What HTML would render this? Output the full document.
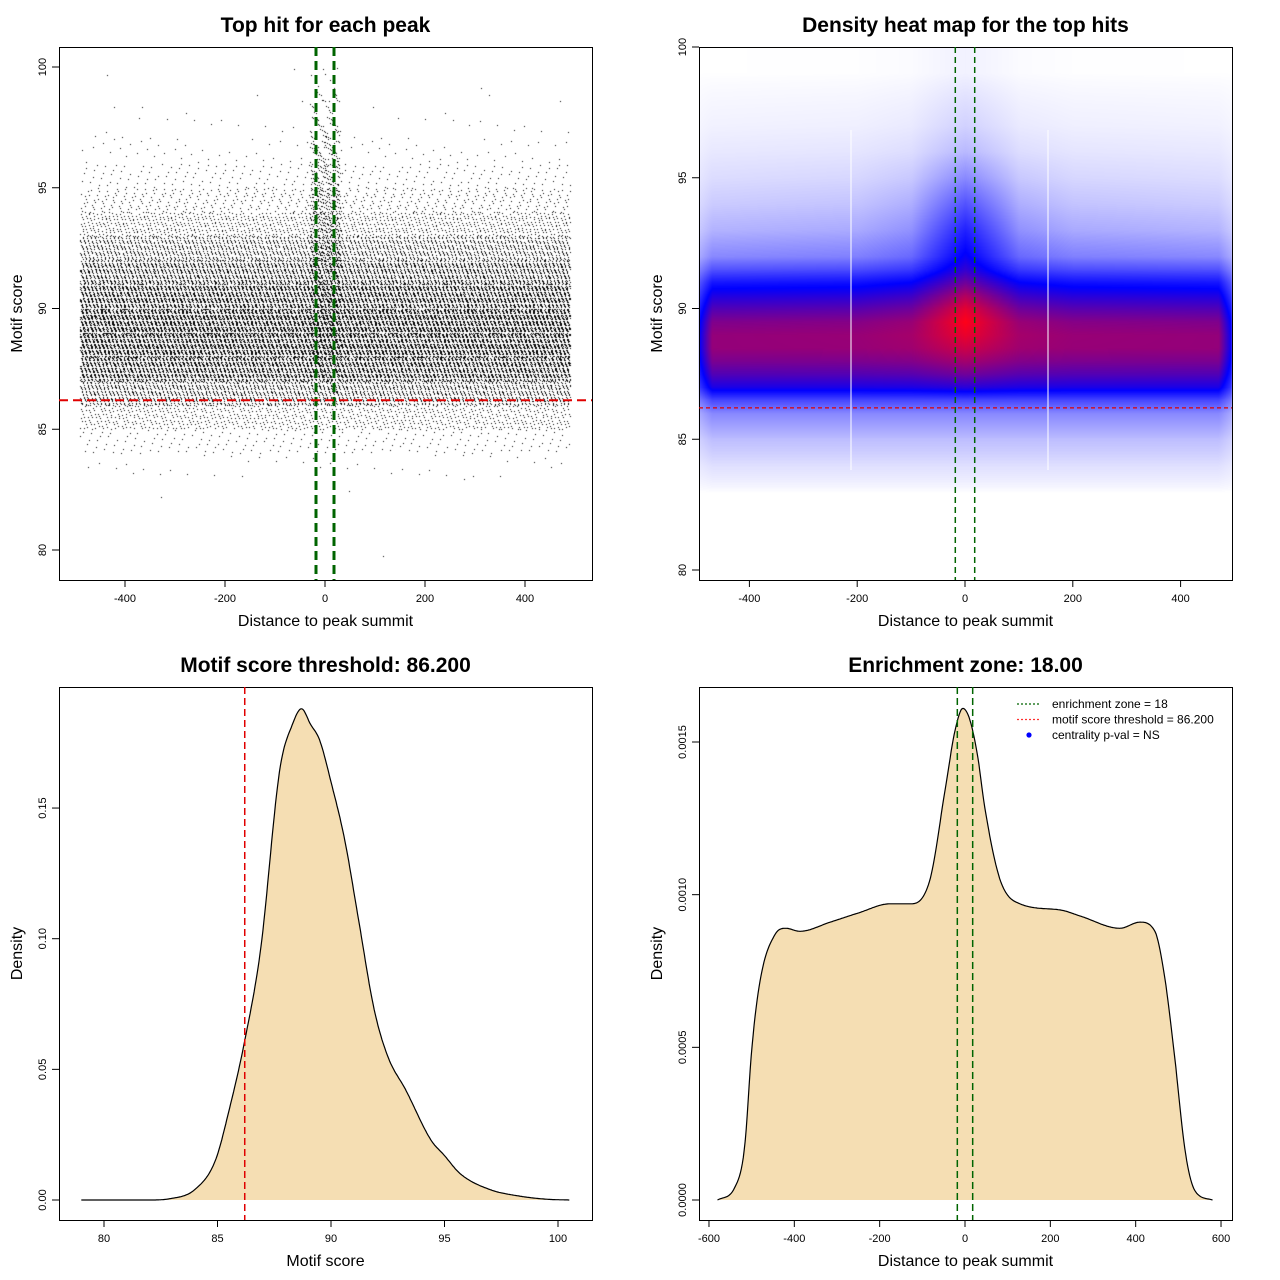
<!DOCTYPE html>
<html><head><meta charset="utf-8">
<style>
html,body{margin:0;padding:0;background:#fff;}
#wrap{position:relative;width:1280px;height:1280px;overflow:hidden;}
canvas,svg{position:absolute;left:0;top:0;}
text{font-family:"Liberation Sans",sans-serif;}
</style></head>
<body>
<div id="wrap">
<canvas id="cv" width="1280" height="1280"></canvas>
<svg id="sv" width="1280" height="1280" xmlns="http://www.w3.org/2000/svg"></svg>
</div>
<script>
// ---------- DATA ----------
const scatterScoreBands = [79,80,81,82,83,84,85,86,87,88,89,90,91,92,93,94,95,96,97,98,99];
const scatterCountsAll  = [1,0,0,3,40,220,900,2400,4800,5600,5600,4800,3500,2100,1100,520,220,80,30,10,3];
const scatterCountsCenter = [0,0,0,0,0,0,0,15,40,60,60,80,90,110,110,100,80,60,40,22,8];

const heatScores = [83,84,85,86,86.5,87,87.5,88,88.5,89,89.5,90,90.5,91,91.5,92,93,94,95,96,97,98,99];
const heatSide   = [0,0.03,0.08,0.18,0.32,0.55,0.66,0.74,0.79,0.79,0.75,0.66,0.56,0.45,0.3,0.18,0.1,0.06,0.035,0.02,0.01,0.005,0];
const heatCenter = [0,0.03,0.08,0.18,0.32,0.58,0.72,0.82,0.9,0.96,1.0,0.95,0.85,0.72,0.6,0.52,0.42,0.3,0.18,0.09,0.05,0.03,0.01];
const heatDist   = [-540,-500,-470,-200,-100,-50,0,50,100,200,470,500,540];
const heatCenterWeight = [0,0,0,0.05,0.2,0.6,1,0.6,0.2,0.05,0,0,0];
const heatEdgeWeight   = [0,0.55,1,1,1,1,1,1,1,1,1,0.55,0];

const scoreX = [79,82,82.9,84,84.9,85.5,86.2,86.9,87.75,88.3,88.7,89.1,89.5,90,90.6,91.2,91.9,92.5,93.3,94.4,95,95.7,97,98.3,99.5,100.5];
const scoreY = [0,0,0.0005,0.004,0.015,0.034,0.061,0.096,0.165,0.182,0.188,0.182,0.176,0.16,0.138,0.108,0.073,0.055,0.042,0.023,0.017,0.01,0.004,0.0015,0.0003,0];

const distX = [-580,-540,-516,-500,-480,-445,-420,-387,-316,-250,-176,-129,-82,-47,-23,-5,12,30,47,82,129,223,270,363,410,445,469,492,516,539,580];
const distY = [0,0.00004,0.00018,0.00049,0.00072,0.00087,0.00089,0.00088,0.00091,0.00094,0.00097,0.00097,0.00105,0.00134,0.00154,0.00161,0.00157,0.00145,0.00128,0.00105,0.00097,0.00095,0.00093,0.00089,0.00091,0.00088,0.00072,0.00046,0.00016,0.00003,0];

const p1XTicks=[-400,-200,0,200,400], p1YTicks=[80,85,90,95,100];
const p2XTicks=[-400,-200,0,200,400], p2YTicks=[80,85,90,95,100];
const p3XTicks=[80,85,90,95,100], p3YTicks=[0,0.05,0.10,0.15], p3YLabels=["0.00","0.05","0.10","0.15"];
const p4XTicks=[-600,-400,-200,0,200,400,600], p4YTicks=[0,0.0005,0.001,0.0015], p4YLabels=["0.0000","0.0005","0.0010","0.0015"];

// ---------- SCALES ----------
const P1={x0:59,x1:592,y0:47,y1:580,sx:d=>325+0.5*d,sy:s=>67+(100-s)*24.15};
const P2={x0:699,x1:1232,y0:47,y1:580,sx:d=>965+0.539*d,sy:s=>47+(100-s)*26.15};
const P3={x0:59,x1:592,y0:687,y1:1220,sx:s=>104+(s-80)*22.7,sy:v=>1200-v*2613};
const P4={x0:699,x1:1232,y0:687,y1:1220,sx:d=>965+0.4267*d,sy:v=>1200-v*305333};

const NS="http://www.w3.org/2000/svg";
const sv=document.getElementById('sv');
function mk(tag,attrs,parent){const e=document.createElementNS(NS,tag);for(const k in attrs)e.setAttribute(k,attrs[k]);(parent||sv).appendChild(e);return e;}
function txt(str,attrs,parent){const e=mk('text',attrs,parent);e.textContent=str;return e;}
function interp(xs,ys,x){if(x<=xs[0])return ys[0];for(let i=1;i<xs.length;i++){if(x<=xs[i]){const t=(x-xs[i-1])/(xs[i]-xs[i-1]);return ys[i-1]+t*(ys[i]-ys[i-1]);}}return ys[ys.length-1];}
function mono(xs,ys){
  const n=xs.length,dl=[],m=[];
  for(let i=0;i<n-1;i++)dl.push((ys[i+1]-ys[i])/(xs[i+1]-xs[i]));
  m[0]=dl[0];m[n-1]=dl[n-2];
  for(let i=1;i<n-1;i++){m[i]=(dl[i-1]*dl[i]<=0)?0:(dl[i-1]+dl[i])/2;}
  for(let i=0;i<n-1;i++){if(dl[i]===0){m[i]=0;m[i+1]=0;continue;}const a=m[i]/dl[i],b=m[i+1]/dl[i],h=a*a+b*b;if(h>9){const t=3/Math.sqrt(h);m[i]=t*a*dl[i];m[i+1]=t*b*dl[i];}}
  return x=>{let i=0;while(i<n-2&&x>xs[i+1])i++;const h=xs[i+1]-xs[i],t=(x-xs[i])/h;const t2=t*t,t3=t2*t;
    return (2*t3-3*t2+1)*ys[i]+(t3-2*t2+t)*h*m[i]+(-2*t3+3*t2)*ys[i+1]+(t3-t2)*h*m[i+1];};
}

function axes(P,name,xt,xl,yt,yl,title,xtitle,ytitle){
  const g=mk('g',{});
  
  
  const box=mk('rect',{x:P.x0+0.5,y:P.y0+0.5,width:P.x1-P.x0,height:P.y1-P.y0,fill:'none',stroke:'#000','stroke-width':1},g);
  
  
  const xa=mk('g',{},g);
  
  
  mk('line',{x1:P.sx(xt[0]),x2:P.sx(xt[xt.length-1]),y1:P.y1+0.5,y2:P.y1+0.5,stroke:'#000'},xa);
  xt.forEach((v,i)=>{const x=P.sx(v);mk('line',{x1:x,x2:x,y1:P.y1,y2:P.y1+7,stroke:'#000'},xa);
    const t=txt(xl[i],{x:x,y:P.y1+22,'font-size':11,'text-anchor':'middle'},xa);
    
    });
  const ya=mk('g',{},g);
  
  
  mk('line',{x1:P.x0+0.5,x2:P.x0+0.5,y1:P.sy(yt[0]),y2:P.sy(yt[yt.length-1]),stroke:'#000'},ya);
  yt.forEach((v,i)=>{const y=P.sy(v);mk('line',{x1:P.x0-7,x2:P.x0,y1:y,y2:y,stroke:'#000'},ya);
    const t=txt(yl[i],{x:P.x0-13,y:y,'font-size':11,'text-anchor':'middle',transform:`rotate(-90 ${P.x0-13} ${y})`},ya);
    
    });
  const cx=(P.x0+P.x1)/2, cy=(P.y0+P.y1)/2;
  const tt=txt(title,{x:cx,y:P.y0-15,'font-size':21,'font-weight':'bold','text-anchor':'middle'},g);
  
  
  const xtt=txt(xtitle,{x:cx,y:P.y1+46,'font-size':16,'text-anchor':'middle'},g);
  
  
  const ytt=txt(ytitle,{x:P.x0-37,y:cy,'font-size':16,'text-anchor':'middle',transform:`rotate(-90 ${P.x0-37} ${cy})`},g);
  
  
}
function dline(name,x1,y1,x2,y2,color,w,dash){const l=mk('line',{x1,y1,x2,y2,stroke:color,'stroke-width':w,'stroke-dasharray':dash});
  
  return l;}

const cv=document.getElementById('cv');const ctx=cv.getContext('2d');

// ---------- PANEL 1 scatter ----------
ctx.fillStyle='#000';
function scatterBand(counts,dmin,dmax,seed){
  scatterScoreBands.forEach((s,b)=>{
    const n=counts[b];
    for(let i=0;i<n;i++){
      const u=((i+1)*0.6180339887+b*0.31+seed)%1;
      const v=((i+1)*0.7548776662+b*0.5698+seed*0.7)%1;
      const d=dmin+(dmax-dmin)*u;
      const sc=s+Math.round(v*20)/20;
      ctx.fillRect(Math.round(P1.sx(d)),Math.round(P1.sy(sc)),1,1);
    }
  });
}
scatterBand(scatterCountsAll,-490,490,0);
scatterBand(scatterCountsCenter,-30,30,0.37);
axes(P1,'p1',p1XTicks,p1XTicks.map(String),p1YTicks,p1YTicks.map(String),'Top hit for each peak','Distance to peak summit','Motif score');
dline('p1-enrichment-left',P1.sx(-18),P1.y0,P1.sx(-18),P1.y1,'#006400',3,'9,5');
dline('p1-enrichment-right',P1.sx(18),P1.y0,P1.sx(18),P1.y1,'#006400',3,'9,5');
dline('p1-threshold-line',P1.x0,P1.sy(86.2),P1.x1,P1.sy(86.2),'#e00000',2,'9,5');

// ---------- PANEL 2 heat map ----------
(function(){
  const W=P2.x1-P2.x0,H=P2.y1-P2.y0;
  const img=ctx.createImageData(W,H);
  for(let px=0;px<W;px++){
    const d=(P2.x0+px-965)/0.539;
    const cw=interp(heatDist,heatCenterWeight,d), ew=interp(heatDist,heatEdgeWeight,d);
    for(let py=0;py<H;py++){
      const s=100-(py)/26.15;
      let v=(interp(heatScores,heatSide,s)*(1-cw)+interp(heatScores,heatCenter,s)*cw)*ew;
      let r,g,b;
      if(v<0.5){const t=Math.pow(v/0.5,0.75);r=255*(1-t);g=255*(1-t);b=255;}
      else{const t=(v-0.5)/0.5;r=255*t;g=0;b=255*(1-t)+25*t;}
      const k=(py*W+px)*4;img.data[k]=r;img.data[k+1]=g;img.data[k+2]=b;img.data[k+3]=255;
    }
  }
  ctx.putImageData(img,P2.x0,P2.y0);
})();
axes(P2,'p2',p2XTicks,p2XTicks.map(String),p2YTicks,p2YTicks.map(String),'Density heat map for the top hits','Distance to peak summit','Motif score');
dline('p2-artifact-line-left',851,130,851,470,'#ffffff',1,'none');
dline('p2-artifact-line-right',1048,130,1048,470,'#ffffff',1,'none');
dline('p2-enrichment-left',P2.sx(-18),P2.y0,P2.sx(-18),P2.y1,'#006400',1.5,'6,4');
dline('p2-enrichment-right',P2.sx(18),P2.y0,P2.sx(18),P2.y1,'#006400',1.5,'6,4');
dline('p2-threshold-line',P2.x0,P2.sy(86.2),P2.x1,P2.sy(86.2),'#e00000',1.2,'4,3');

// ---------- density helper ----------
function densityPath(P,xs,ys){
  const f=mono(xs,ys);let d='';const steps=500;
  for(let i=0;i<=steps;i++){const x=xs[0]+(xs[xs.length-1]-xs[0])*i/steps;const y=Math.max(0,f(x));d+=(i?'L':'M')+P.sx(x).toFixed(1)+','+P.sy(y).toFixed(1);}
  return d;
}
axes(P3,'p3',p3XTicks,p3XTicks.map(String),p3YTicks,p3YLabels,'Motif score threshold: 86.200','Motif score','Density');
{const pd=densityPath(P3,scoreX,scoreY);
 const a=mk('path',{d:pd+'Z',fill:'#F5DEB3',stroke:'none'});
 
 
 const l=mk('path',{d:pd,fill:'none',stroke:'#000','stroke-width':1.2});
 
 }
dline('p3-threshold-line',P3.sx(86.2),P3.y0,P3.sx(86.2),P3.y1,'#e00000',1.5,'7,4');

axes(P4,'p4',p4XTicks,p4XTicks.map(String),p4YTicks,p4YLabels,'Enrichment zone: 18.00','Distance to peak summit','Density');
{const pd=densityPath(P4,distX,distY);
 const a=mk('path',{d:pd+'Z',fill:'#F5DEB3',stroke:'none'});
 
 
 const l=mk('path',{d:pd,fill:'none',stroke:'#000','stroke-width':1.2});
 
 }
dline('p4-enrichment-left',P4.sx(-18),P4.y0,P4.sx(-18),P4.y1,'#006400',1.5,'7,4');
dline('p4-enrichment-right',P4.sx(18),P4.y0,P4.sx(18),P4.y1,'#006400',1.5,'7,4');
{const lg=mk('g',{});
 
 
 const rows=[['enrichment zone = 18','#006400','line'],['motif score threshold = 86.200','#ff3030','line'],['centrality p-val = NS','#0000ff','dot']];
 rows.forEach((r,i)=>{const y=704+i*15.5;
  if(r[2]==='line'){mk('line',{x1:1017,x2:1041,y1:y,y2:y,stroke:r[1],'stroke-width':1.3,'stroke-dasharray':'2,2'},lg);}
  else{mk('circle',{cx:1029,cy:y,r:2.6,fill:r[1]},lg);}
  const t=txt(r[0],{x:1052,y:y+4,'font-size':12},lg);
  
  });}
</script>
</body></html>
